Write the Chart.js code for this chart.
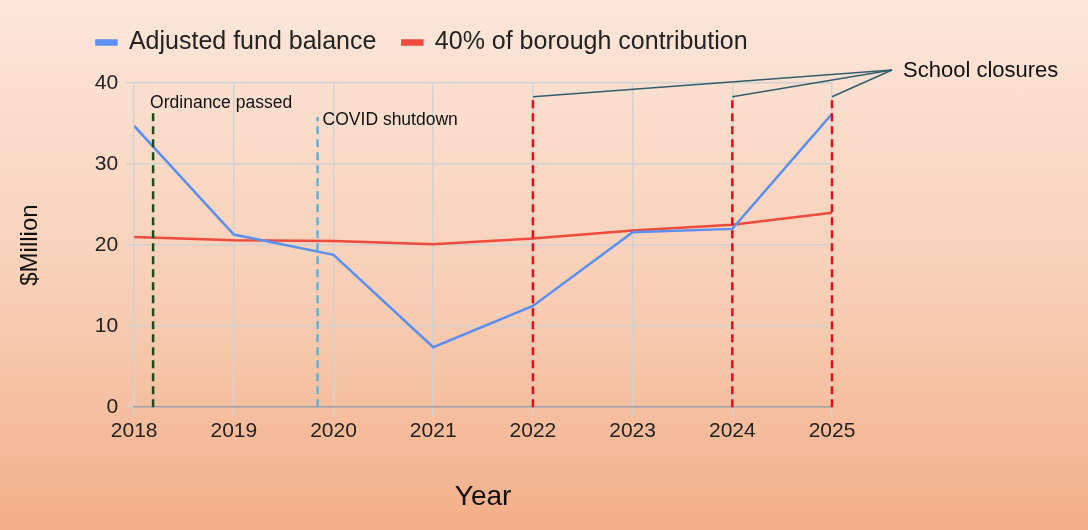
<!DOCTYPE html>
<html>
<head>
<meta charset="utf-8">
<script src="https://cdn.jsdelivr.net/npm/chart.js@4"></script>
<style>
  html, body { margin: 0; padding: 0; }
  body {
    width: 1088px; height: 530px; overflow: hidden;
    background: linear-gradient(to bottom, #fce6da 0%, #f8cfb6 55%, #f2ae88 100%);
  }
  #wrap { width: 1088px; height: 530px; position: relative; }
</style>
</head>
<body>
<div id="wrap"><canvas id="chart"></canvas></div>
<script>
// ---- data ----
const years = [2018, 2019, 2020, 2021, 2022, 2023, 2024, 2025];
const fundBalance = [34.7, 21.3, 18.8, 7.4, 12.5, 21.6, 22.0, 36.2];
const boroughShare = [21.0, 20.6, 20.5, 20.1, 20.8, 21.8, 22.5, 24.0];

// event markers: [x year, top value]
const ordinance = [2018.19, 36.4];
const covid = [2019.84, 35.8];
const closureYears = [2022, 2024, 2025];
const closureTop = 38.3;

const FONT = "'Liberation Sans', Arial, sans-serif";

const markerPlugin = {
    id: "markers",
    beforeInit(chart) {
        // push plot area down below the legend
        const fit = chart.legend.fit;
        chart.legend.fit = function () {
            fit.bind(chart.legend)();
            this.height += 18;
        };
    },
    afterDatasetsDraw(chart) {
        const { ctx, scales: { x, y } } = chart;
        const y0 = y.getPixelForValue(0);
        ctx.save();
        ctx.lineWidth = 2.5;
        ctx.setLineDash([8, 5]);

        const vline = (xv, top, color) => {
            ctx.strokeStyle = color;
            ctx.beginPath();
            ctx.moveTo(x.getPixelForValue(xv), y0);
            ctx.lineTo(x.getPixelForValue(xv), y.getPixelForValue(top));
            ctx.stroke();
        };
        vline(ordinance[0], ordinance[1], "#1f4a1a");
        vline(covid[0], covid[1], "#5bb4dc");
        closureYears.forEach(yr => vline(yr, closureTop, "#e0101a"));

        // callout lines to "School closures"
        ctx.setLineDash([]);
        ctx.lineWidth = 1.5;
        ctx.strokeStyle = "#2f5e6e";
        const tx = 892, ty = 70;
        closureYears.forEach(yr => {
            ctx.beginPath();
            ctx.moveTo(x.getPixelForValue(yr), y.getPixelForValue(closureTop));
            ctx.lineTo(tx, ty);
            ctx.stroke();
        });

        ctx.fillStyle = "#111";
        ctx.textBaseline = "middle";
        ctx.font = "22px " + FONT;
        ctx.fillText("School closures", tx + 11, ty + 1);
        ctx.font = "17.5px " + FONT;
        ctx.fillText("Ordinance passed", x.getPixelForValue(ordinance[0]) - 3, y.getPixelForValue(37.5));
        ctx.fillText("COVID shutdown", x.getPixelForValue(covid[0]) + 5, y.getPixelForValue(35.4));
        ctx.restore();
    }
};

new Chart(document.getElementById("chart"), {
    type: "line",
    data: {
        datasets: [
            {
                label: "Adjusted fund balance",
                data: years.map((yr, i) => ({ x: yr, y: fundBalance[i] })),
                borderColor: "#5b8ff0",
                backgroundColor: "#5b8ff0",
                borderWidth: 2.5,
                pointRadius: 0,
                tension: 0
            },
            {
                label: "40% of borough contribution",
                data: years.map((yr, i) => ({ x: yr, y: boroughShare[i] })),
                borderColor: "#ee4b3c",
                backgroundColor: "#ee4b3c",
                borderWidth: 2.5,
                pointRadius: 0,
                tension: 0
            }
        ]
    },
    options: {
        responsive: true,
        maintainAspectRatio: false,
        animation: false,
        layout: { padding: { top: 4, right: 256, left: 12, bottom: 12 } },
        scales: {
            x: {
                type: "linear",
                min: 2018, max: 2025,
                ticks: { stepSize: 1, color: "#222", font: { size: 21, family: FONT }, callback: v => String(v) },
                grid: { color: "#d2d2d2", lineWidth: 1.5 },
                border: { color: "#a0a0a0", width: 1.5 },
                title: { display: true, text: "Year", color: "#111", font: { size: 28, family: FONT }, padding: { top: 34 } }
            },
            y: {
                min: 0, max: 40,
                ticks: { stepSize: 10, color: "#222", font: { size: 21, family: FONT }, padding: 8 },
                grid: { color: "#d2d2d2", lineWidth: 1.5 },
                border: { display: false },
                title: { display: true, text: "$Million", color: "#111", font: { size: 24, family: FONT }, padding: { bottom: 42 } }
            }
        },
        plugins: {
            legend: {
                align: "center",
                labels: {
                    color: "#222",
                    font: { size: 25, family: FONT },
                    boxWidth: 20, boxHeight: 4, padding: 26
                }
            },
            tooltip: { enabled: false }
        }
    },
    plugins: [markerPlugin]
});
</script>
</body>
</html>
